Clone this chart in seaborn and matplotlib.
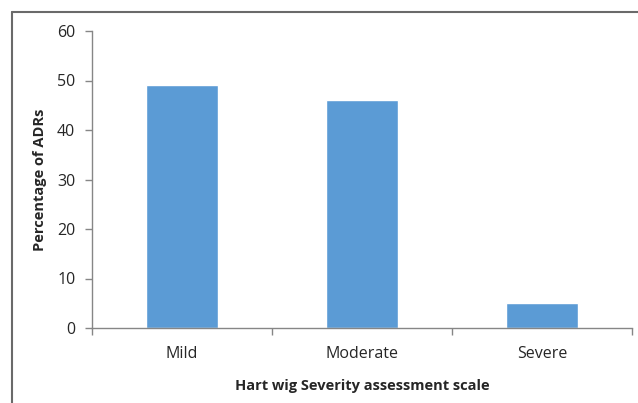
import seaborn as sns
import matplotlib.pyplot as plt
from matplotlib.lines import Line2D

categories = ["Mild", "Moderate", "Severe"]
percentages = [49, 46, 5]

sns.set_theme(style="white")
plt.rcParams['font.family'] = ['Open Sans', 'DejaVu Sans']

fig = plt.figure(figsize=(6.38, 4.03), dpi=100)
ax = fig.add_axes([92 / 638, 75 / 403, 540 / 638, 297 / 403])

sns.barplot(x=categories, y=percentages, color="#5B9BD5", saturation=1,
            width=0.4, ax=ax)

ax.set_xlim(-0.5, 2.5)
ax.set_ylim(0, 60)
ax.set_yticks(range(0, 61, 10))
ax.set_xticks([-0.5, 0.5, 1.5, 2.5], minor=False)
ax.set_xticklabels([])
ax.set_xticks([0, 1, 2], minor=True)
ax.set_xticklabels(categories, minor=True)

ax.tick_params(axis="x", which="major", length=5, width=1, color="#868686",
               direction="out", bottom=True)
ax.tick_params(axis="x", which="minor", length=0, labelsize=11.5,
               labelcolor="#262626", pad=13)
ax.tick_params(axis="y", length=5, width=1, color="#868686", direction="out",
               left=True, labelsize=11.5, labelcolor="#262626", pad=7)

for side in ["top", "right"]:
    ax.spines[side].set_visible(False)
for side in ["left", "bottom"]:
    ax.spines[side].set_color("#868686")
    ax.spines[side].set_linewidth(1)

ax.set_ylabel("Percentage of ADRs", fontsize=10.5, fontweight="bold",
              color="#262626", labelpad=7)
ax.set_xlabel("Hart wig Severity assessment scale", fontsize=10.5,
              fontweight="bold", color="#262626", labelpad=12)

# outer chart border (only top and left edges are visible in the crop)
fig.add_artist(Line2D([12 / 638, 12 / 638], [0, 1 - 12 / 403],
                      transform=fig.transFigure, color="#6a6a6a", lw=1.5))
fig.add_artist(Line2D([12 / 638, 1], [1 - 12 / 403, 1 - 12 / 403],
                      transform=fig.transFigure, color="#6a6a6a", lw=1.5))

fig.savefig("out.png", dpi=100)
